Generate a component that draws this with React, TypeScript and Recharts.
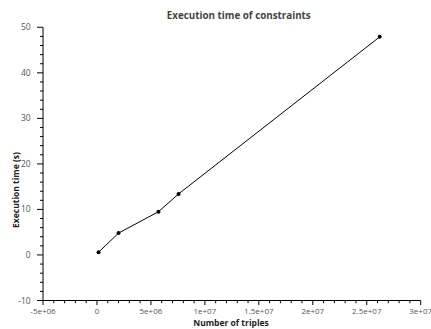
import React from "react";
import { LineChart, Line, XAxis, YAxis } from "recharts";

const triples = [150000, 2000000, 5700000, 7560000, 26200000];
const seconds = [0.6, 4.8, 9.5, 13.4, 47.9];

const xMajorTicks = [-5000000, 0, 5000000, 10000000, 15000000, 20000000, 25000000, 30000000];
const xTickLabels = ["-5e+06", "0", "5e+06", "1e+07", "1.5e+07", "2e+07", "2.5e+07", "3e+07"];
const yMajorTicks = [-10, 0, 10, 20, 30, 40, 50];
const yTickLabels = ["-10", "0", "10", "20", "30", "40", "50"];

const xTicks: number[] = [];
for (let i = -5; i <= 30; i++) xTicks.push(i * 1000000);
const yTicks: number[] = [];
for (let v = -10; v <= 50; v += 2) yTicks.push(v);

const data = triples.map((x, i) => ({ x, y: seconds[i] }));

const FONT = "'Open Sans', sans-serif";
const LABEL_COLOR = "#555";

const XTick = (props: any) => {
  const { x, y, payload } = props;
  const idx = xMajorTicks.indexOf(payload.value);
  const major = idx >= 0;
  return (
    <g>
      <line x1={x} x2={x} y1={y} y2={y + (major ? 4.5 : 2.7)} stroke="#000" strokeWidth={1} />
      {major && (
        <text x={x} y={y + 13.5} textAnchor="middle" fontSize={8} fontFamily={FONT} fill={LABEL_COLOR}>
          {xTickLabels[idx]}
        </text>
      )}
    </g>
  );
};

const YTick = (props: any) => {
  const { x, y, payload } = props;
  const idx = yMajorTicks.indexOf(payload.value);
  const major = idx >= 0;
  return (
    <g>
      <line x1={x} x2={x - (major ? 6 : 3)} y1={y} y2={y} stroke="#000" strokeWidth={1} />
      {major && (
        <text x={x - 12.3} y={y + 3} textAnchor="end" fontSize={8.5} fontFamily={FONT} fill={LABEL_COLOR}>
          {yTickLabels[idx]}
        </text>
      )}
    </g>
  );
};

export default function App() {
  return (
    <div style={{ position: "absolute", left: 0, top: 0, width: 431, height: 329, background: "#fff" }}>
      <LineChart width={431} height={329} data={data} margin={{ top: 27.3, right: 10.3, bottom: 0, left: 0 }}>
        <XAxis
          dataKey="x"
          type="number"
          domain={[-5000000, 30000000]}
          ticks={xTicks}
          interval={0}
          height={28.5}
          tickSize={0}
          tickMargin={0}
          tickLine={false}
          axisLine={{ stroke: "#000" }}
          tick={<XTick />}
          allowDataOverflow
        />
        <YAxis
          dataKey="y"
          type="number"
          domain={[-10, 50]}
          ticks={yTicks}
          interval={0}
          width={43}
          tickSize={0}
          tickMargin={0}
          tickLine={false}
          axisLine={{ stroke: "#000" }}
          tick={<YTick />}
          allowDataOverflow
        />
        <Line
          dataKey="y"
          stroke="#000"
          strokeWidth={1}
          dot={{ r: 2, fill: "#000", stroke: "none" }}
          isAnimationActive={false}
        />
      </LineChart>
      <div
        style={{
          position: "absolute",
          left: 238.8,
          top: 15,
          transform: "translate(-50%, -50%)",
          fontFamily: FONT,
          fontWeight: 700,
          fontSize: 9.8,
          color: "#444",
          whiteSpace: "nowrap",
        }}
      >
        Execution time of constraints
      </div>
      <div
        style={{
          position: "absolute",
          left: 231,
          top: 322,
          transform: "translate(-50%, -50%)",
          fontFamily: FONT,
          fontWeight: 700,
          fontSize: 8.5,
          color: "#222",
          whiteSpace: "nowrap",
        }}
      >
        Number of triples
      </div>
      <div
        style={{
          position: "absolute",
          left: 15,
          top: 190,
          transform: "translate(-50%, -50%) rotate(-90deg)",
          fontFamily: FONT,
          fontWeight: 700,
          fontSize: 8.5,
          color: "#222",
          whiteSpace: "nowrap",
        }}
      >
        Execution time (s)
      </div>
    </div>
  );
}
